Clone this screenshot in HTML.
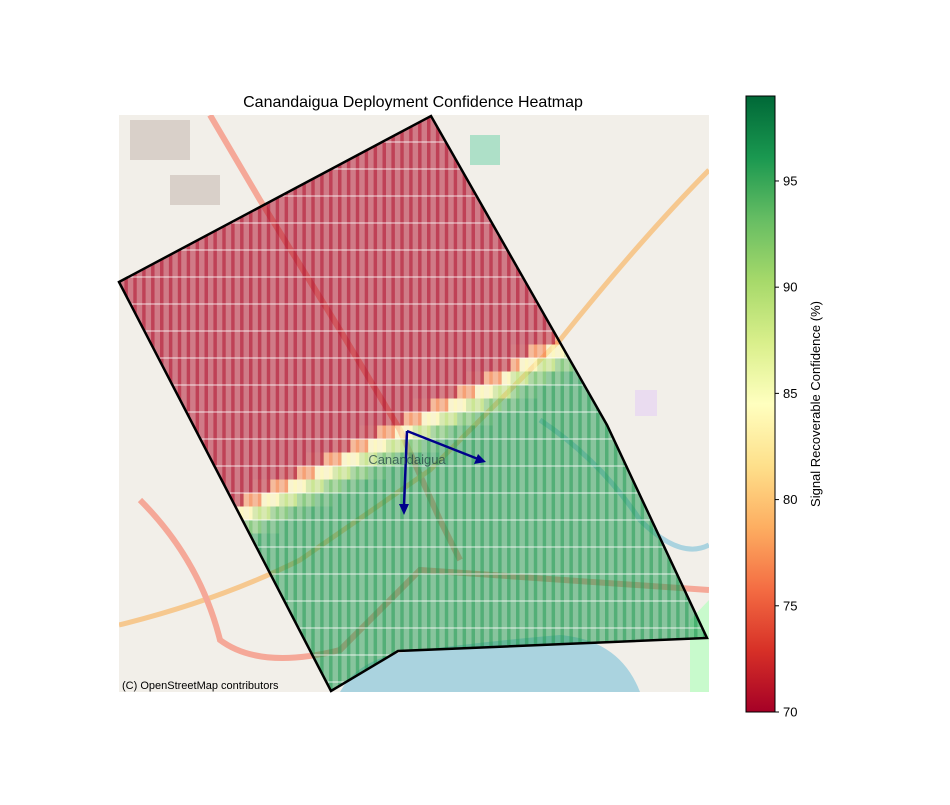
<!DOCTYPE html>
<html><head><meta charset="utf-8"><style>
body{margin:0;background:#fff;font-family:"Liberation Sans",sans-serif}
svg text{font-family:"Liberation Sans",sans-serif}
</style></head><body>
<svg id="s" width="950" height="800">
<defs>
<clipPath id="mapclip"><rect x="119" y="115" width="590" height="577"/></clipPath>
<clipPath id="polyclip"><polygon points="119,282 431,116 607,425 707,638 398,651 331,691"/></clipPath>
<linearGradient id="cb" x1="0" y1="1" x2="0" y2="0">
<stop offset="0" stop-color="#a50026"/><stop offset="0.1" stop-color="#d73027"/><stop offset="0.2" stop-color="#f46d43"/><stop offset="0.3" stop-color="#fdae61"/><stop offset="0.4" stop-color="#fee08b"/><stop offset="0.5" stop-color="#ffffbf"/><stop offset="0.6" stop-color="#d9ef8b"/><stop offset="0.7" stop-color="#a6d96a"/><stop offset="0.8" stop-color="#66bd63"/><stop offset="0.9" stop-color="#1a9850"/><stop offset="1" stop-color="#006837"/>
</linearGradient>
</defs>
<text x="413" y="107" font-size="16" text-anchor="middle">Canandaigua Deployment Confidence Heatmap</text>
<g clip-path="url(#mapclip)">
<rect x="119" y="115" width="590" height="577" fill="#f2efe9"/>
<path d="M340,692 Q360,655 420,650 Q500,640 560,635 Q620,640 640,692 Z" fill="#aad3df"/>
<path d="M540,420 Q600,460 640,520 Q680,560 709,545" stroke="#aad3df" stroke-width="5" fill="none"/>
<path d="M210,115 L260,200 L340,330 L400,430 L440,520 L460,560" stroke="#f5a898" stroke-width="6" fill="none"/>
<path d="M119,625 Q220,600 300,560 L430,470 L560,340 Q640,240 709,170" stroke="#f6c88f" stroke-width="5" fill="none"/>
<path d="M140,500 Q200,560 220,640 Q260,670 340,650 L420,570 L709,590" stroke="#f5a898" stroke-width="6" fill="none"/>
<rect x="130" y="120" width="60" height="40" fill="#d9d0c9"/>
<rect x="170" y="175" width="50" height="30" fill="#d9d0c9"/>
<rect x="470" y="135" width="30" height="30" fill="#aee0c8"/>
<rect x="635" y="390" width="22" height="26" fill="#eadcf0"/>
<path d="M690,620 L709,600 L709,692 L690,692 Z" fill="#c8facc"/>
</g>
<g id="heat" clip-path="url(#polyclip)"></g>
<polygon points="119,282 431,116 607,425 707,638 398,651 331,691" fill="none" stroke="#000" stroke-width="2.5"/>
<g stroke="#00008b" stroke-width="2.5" fill="#00008b">
<line x1="407" y1="431" x2="478" y2="459"/><polygon points="486,462 474,464 478,454" stroke="none"/>
<line x1="407" y1="431" x2="404" y2="506"/><polygon points="404,515 399,504 409,504" stroke="none"/>
</g>
<text x="407" y="464" font-size="13" fill="#244" text-anchor="middle" opacity="0.75">Canandaigua</text>
<text x="122" y="689" font-size="11" fill="#000">(C) OpenStreetMap contributors</text>
<rect x="746" y="96" width="29" height="616" fill="url(#cb)" stroke="#000" stroke-width="1"/>
<g id="cbticks"></g>
<text transform="translate(820,404) rotate(-90)" font-size="13" text-anchor="middle">Signal Recoverable Confidence (%)</text>
</svg>
<script>
const cbTicks=[70,75,80,85,90,95];
const cbMin=70, cbMax=99;
const bandValues=[70.5,70.5,71,77,84,89,93,95,96,96];
const NS="http://www.w3.org/2000/svg";
function cbY(v){return 712-(v-cbMin)/(cbMax-cbMin)*616;}
const tg=document.getElementById('cbticks');
cbTicks.forEach(t=>{
 const l=document.createElementNS(NS,'line');
 l.setAttribute('x1',775);l.setAttribute('x2',779);l.setAttribute('y1',cbY(t));l.setAttribute('y2',cbY(t));l.setAttribute('stroke','#000');
 
 
 tg.appendChild(l);
 const tx=document.createElementNS(NS,'text');
 tx.setAttribute('x',783);tx.setAttribute('y',cbY(t)+4.5);tx.setAttribute('font-size',13);tx.textContent=t;
 
 
 tg.appendChild(tx);
});
const stops=[[165,0,38],[215,48,39],[244,109,67],[253,174,97],[254,224,139],[255,255,191],[217,239,139],[166,217,106],[102,189,99],[26,152,80],[0,104,55]];
function color(v){let t=(v-cbMin)/(cbMax-cbMin);t=Math.max(0,Math.min(1,t))*10;const i=Math.min(9,Math.floor(t)),f=t-i;const a=stops[i],b=stops[i+1];return 'rgb('+a.map((c,k)=>Math.round(c+(b[k]-c)*f)).join(',')+')';}
const bx1=560,by1=348,bx2=240,by2=515;
const heat=document.getElementById('heat');
const cw=8.9,ch=13.5;
for(let r=0;r*ch<580;r++){
 for(let c=0;c*cw<592;c++){
  const x=119+c*cw,y=115+r*ch,cx=x+cw/2,cy=y+ch/2;
  const d=((bx2-bx1)*(cy-by1)-(by2-by1)*(cx-bx1))/Math.hypot(bx2-bx1,by2-by1);
  let bi=Math.floor((-d+18)/8)+2;bi=Math.max(0,Math.min(bandValues.length-1,bi));
  const v=bandValues[bi];
  const rc=document.createElementNS(NS,'rect');
  rc.setAttribute('x',x);rc.setAttribute('y',y);rc.setAttribute('width',cw);rc.setAttribute('height',ch);
  rc.setAttribute('fill',color(v));rc.setAttribute('fill-opacity',0.5);
  
  
  heat.appendChild(rc);
  const st=document.createElementNS(NS,'rect');
  st.setAttribute('x',x+cw-3.5);st.setAttribute('y',y);st.setAttribute('width',3.5);st.setAttribute('height',ch);
  st.setAttribute('fill',color(v));st.setAttribute('fill-opacity',0.5);
  
  
  heat.appendChild(st);
 }
 if(r%2===0){
 const wl=document.createElementNS(NS,'line');
 wl.setAttribute('x1',119);wl.setAttribute('x2',709);wl.setAttribute('y1',115+r*ch);wl.setAttribute('y2',115+r*ch);
 wl.setAttribute('stroke','#fff');wl.setAttribute('stroke-opacity',0.8);wl.setAttribute('stroke-width',1);
 
 
 heat.appendChild(wl);
 }
}
</script>
</body></html>
